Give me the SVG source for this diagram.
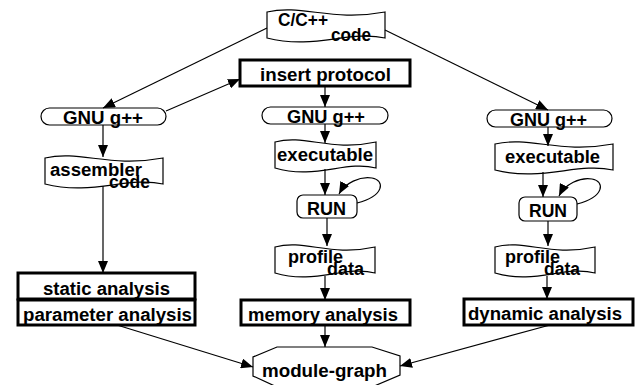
<svg xmlns="http://www.w3.org/2000/svg" width="640" height="385" viewBox="0 0 640 385">
<defs>
<style>
.s{fill:#fff;stroke:#000;stroke-width:1.2}
.b{fill:#fff;stroke:#000;stroke-width:3}
.t{font-family:"Liberation Sans",Arial,Helvetica,sans-serif;font-weight:bold;font-size:18px;fill:#000}
.c{fill:none;stroke:#000;stroke-width:1.2;marker-end:url(#ah)}
</style>
<marker id="ah" markerUnits="userSpaceOnUse" viewBox="0 0 12 10" refX="12" refY="5" markerWidth="12" markerHeight="10" orient="auto">
<path d="M0,0 L12,5 L0,10 Z" fill="#000"/>
</marker>
</defs>
<rect width="640" height="385" fill="#fff"/>
<g id="cpp"><path class="s" d="M267,12 C302.4,4 331.9,22 385,12 L385,38 C349.6,30 314.2,50 267,38 Z"/><text class="t" x="278" y="26" textLength="50" lengthAdjust="spacingAndGlyphs">C/C++</text><text class="t" x="331" y="41" textLength="40" lengthAdjust="spacingAndGlyphs">code</text></g>
<g id="insert"><rect class="b" x="240" y="60" width="170" height="26"/><text class="t" x="260" y="81" textLength="131" lengthAdjust="spacingAndGlyphs">insert protocol</text></g>
<g id="gnu_l"><rect class="s" x="41" y="108" width="125" height="17" rx="8.5"/><text class="t" x="63" y="124" textLength="80" lengthAdjust="spacingAndGlyphs">GNU g++</text></g>
<g id="gnu_c"><rect class="s" x="262" y="107" width="126" height="17" rx="8.5"/><text class="t" x="287" y="123" textLength="78" lengthAdjust="spacingAndGlyphs">GNU g++</text></g>
<g id="gnu_r"><rect class="s" x="487" y="110" width="125" height="17" rx="8.5"/><text class="t" x="510" y="126" textLength="77" lengthAdjust="spacingAndGlyphs">GNU g++</text></g>
<g id="asm"><path class="s" d="M45,158 C80.4,150 109.9,168 163,158 L163,184 C127.6,176 92.2,196 45,184 Z"/><text class="t" x="50" y="176" textLength="92" lengthAdjust="spacingAndGlyphs">assembler</text><text class="t" x="109" y="188" textLength="41" lengthAdjust="spacingAndGlyphs">code</text></g>
<g id="exe_c"><path class="s" d="M275,142 C305.3,134 330.6,152 376,142 L376,168 C345.7,160 315.4,180 275,168 Z"/><text class="t" x="277" y="161" textLength="96" lengthAdjust="spacingAndGlyphs">executable</text></g>
<g id="exe_r"><path class="s" d="M495,144 C530.4,136 559.9,154 613,144 L613,170 C577.6,162 542.2,182 495,170 Z"/><text class="t" x="505" y="163" textLength="95" lengthAdjust="spacingAndGlyphs">executable</text></g>
<g id="run_c"><rect class="s" x="297" y="195" width="60" height="23" rx="6"/><text class="t" x="307" y="215" textLength="39" lengthAdjust="spacingAndGlyphs">RUN</text></g>
<g id="run_r"><rect class="s" x="519" y="197" width="58" height="24" rx="6"/><text class="t" x="529" y="217" textLength="38" lengthAdjust="spacingAndGlyphs">RUN</text></g>
<g id="prof_c"><path class="s" d="M275,247 C305,239 330,257 375,247 L375,273 C345,265 315,285 275,273 Z"/><text class="t" x="288" y="263" textLength="55" lengthAdjust="spacingAndGlyphs">profile</text><text class="t" x="327" y="275" textLength="37" lengthAdjust="spacingAndGlyphs">data</text></g>
<g id="prof_r"><path class="s" d="M495,247 C525,239 550,257 595,247 L595,273 C565,265 535,285 495,273 Z"/><text class="t" x="505" y="263" textLength="55" lengthAdjust="spacingAndGlyphs">profile</text><text class="t" x="544" y="275" textLength="36" lengthAdjust="spacingAndGlyphs">data</text></g>
<g id="static"><rect class="b" x="18" y="273" width="177" height="26"/><text class="t" x="43" y="295" textLength="127" lengthAdjust="spacingAndGlyphs">static analysis</text></g>
<g id="param"><rect class="b" x="18" y="300" width="177" height="25"/><text class="t" x="23" y="321" textLength="169" lengthAdjust="spacingAndGlyphs">parameter analysis</text></g>
<g id="mem"><rect class="b" x="241" y="300" width="169" height="25"/><text class="t" x="248" y="321" textLength="150" lengthAdjust="spacingAndGlyphs">memory analysis</text></g>
<g id="dyn"><rect class="b" x="464" y="299" width="169" height="26"/><text class="t" x="468" y="320" textLength="154" lengthAdjust="spacingAndGlyphs">dynamic analysis</text></g>
<g id="module"><polygon class="s" points="277,347 372,347 400,356 400,375 372,387 277,387 253,376 253,357"/><text class="t" x="262" y="377" textLength="125" lengthAdjust="spacingAndGlyphs">module-graph</text></g>
<g id="connectors">
<path class="c" d="M267,28 L103,108"/>
<path class="c" d="M385,30 L548,110"/>
<path class="c" d="M166,111 L240,79"/>
<path class="c" d="M325,86 L325,107"/>
<path class="c" d="M325,124 L325,143"/>
<path class="c" d="M325,169 L325,195"/>
<path class="c" d="M357,203 C385,196 385,180 372,178 C360,176 345,183 339,194"/>
<path class="c" d="M327,218 L327,246"/>
<path class="c" d="M325,276 L325,300"/>
<path class="c" d="M325,325 L325,347"/>
<path class="c" d="M103,125 L103,157"/>
<path class="c" d="M103,186 L103,273"/>
<path class="c" d="M117,325 L253,367"/>
<path class="c" d="M548,127 L548,146"/>
<path class="c" d="M543,172 L543,197"/>
<path class="c" d="M577,204 C605,197 605,181 592,179 C580,177 565,184 559,196"/>
<path class="c" d="M548,221 L548,246"/>
<path class="c" d="M547,276 L547,299"/>
<path class="c" d="M550,325 L400,366"/>
</g>
</svg>
